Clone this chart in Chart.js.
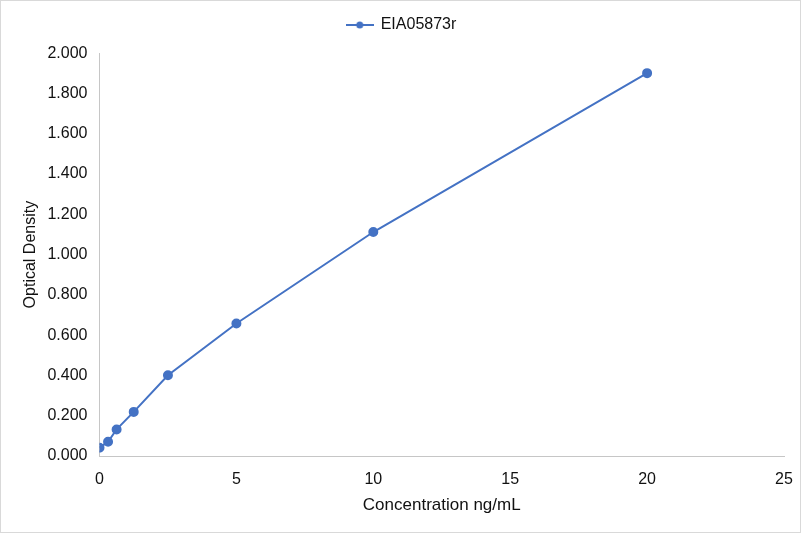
<!DOCTYPE html>
<html>
<head>
<meta charset="utf-8">
<script src="https://cdn.jsdelivr.net/npm/chart.js@4/dist/chart.umd.min.js"></script>
<style>
  html, body { margin: 0; padding: 0; background: #fff; }
  #wrap { position: relative; width: 801px; height: 533px; }
  #wrap::after {
    content: ''; position: absolute; left: 0; top: 0; width: 799px; height: 531px;
    border: 1px solid #d9d9d9; pointer-events: none;
  }
</style>
</head>
<body>
<div id="wrap"><canvas id="chart" width="801" height="533"></canvas></div>
<script>
// Standard curve values
const seriesName = 'EIA05873r';
const concentrations = [0, 0.3125, 0.625, 1.25, 2.5, 5, 10, 20];
const densities = [0.041, 0.071, 0.132, 0.219, 0.401, 0.658, 1.112, 1.901];

const BLUE = '#4472C4';
const TEXT = '#111';
const FONT = 'Liberation Sans, Arial, sans-serif';

// legend marker: short line with a dot, like the spreadsheet legend
const marker = document.createElement('canvas');
marker.width = 28; marker.height = 10;
(() => {
  const c = marker.getContext('2d');
  c.strokeStyle = BLUE; c.lineWidth = 2;
  c.beginPath(); c.moveTo(0, 5); c.lineTo(28, 5); c.stroke();
  c.fillStyle = BLUE;
  c.beginPath(); c.arc(14, 5, 3.5, 0, Math.PI * 2); c.fill();
})();

const points = concentrations.map((x, i) => ({ x, y: densities[i] }));

new Chart(document.getElementById('chart'), {
  type: 'scatter',
  data: {
    datasets: [{
      label: seriesName,
      data: points,
      showLine: true,
      borderColor: BLUE,
      backgroundColor: BLUE,
      borderWidth: 2,
      pointRadius: 4,
      pointHoverRadius: 4,
      pointStyle: 'circle',
      tension: 0
    }]
  },
  options: {
    responsive: false,
    animation: false,
    devicePixelRatio: 1,
    layout: { padding: { top: 9, right: 17, left: 19, bottom: 0 } },
    plugins: {
      tooltip: { enabled: false },
      // empty spacer below the legend
      subtitle: {
        display: true, text: ' ', weight: 500,
        font: { size: 1 }, padding: { top: 0, bottom: 9 }
      },
      legend: {
        position: 'top',
        labels: {
          color: TEXT,
          font: { family: FONT, size: 16 },
          usePointStyle: true,
          boxHeight: 10,
          pointStyleWidth: 26,
          padding: 8,
          generateLabels: chart => chart.data.datasets.map((ds, i) => ({
            text: ds.label,
            pointStyle: marker,
            fontColor: TEXT,
            datasetIndex: i,
            lineWidth: 0,
            strokeStyle: 'transparent'
          }))
        }
      }
    },
    scales: {
      x: {
        type: 'linear',
        min: 0, max: 25,
        ticks: { stepSize: 5, color: TEXT, font: { family: FONT, size: 16 }, padding: 14 },
        grid: { display: false, drawTicks: false },
        border: { display: true, color: '#c6c6c6', width: 1 },
        title: {
          display: true, text: 'Concentration ng/mL', color: TEXT,
          font: { family: FONT, size: 17 }, padding: { top: 10, bottom: 17 }
        },
        afterFit: s => { s.height = 77; s.paddingLeft = 0; s.paddingRight = 0; }
      },
      y: {
        min: 0, max: 2,
        ticks: {
          stepSize: 0.2, color: TEXT, font: { family: FONT, size: 16 }, padding: 12,
          callback: v => v.toFixed(3)
        },
        grid: { display: false, drawTicks: false },
        border: { display: true, color: '#c6c6c6', width: 1 },
        title: {
          display: true, text: 'Optical Density', color: TEXT,
          font: { family: FONT, size: 16 }, padding: { top: 2, bottom: 0 }
        },
        afterFit: s => { s.width = 80.5; }
      }
    }
  }
});
</script>
</body>
</html>
